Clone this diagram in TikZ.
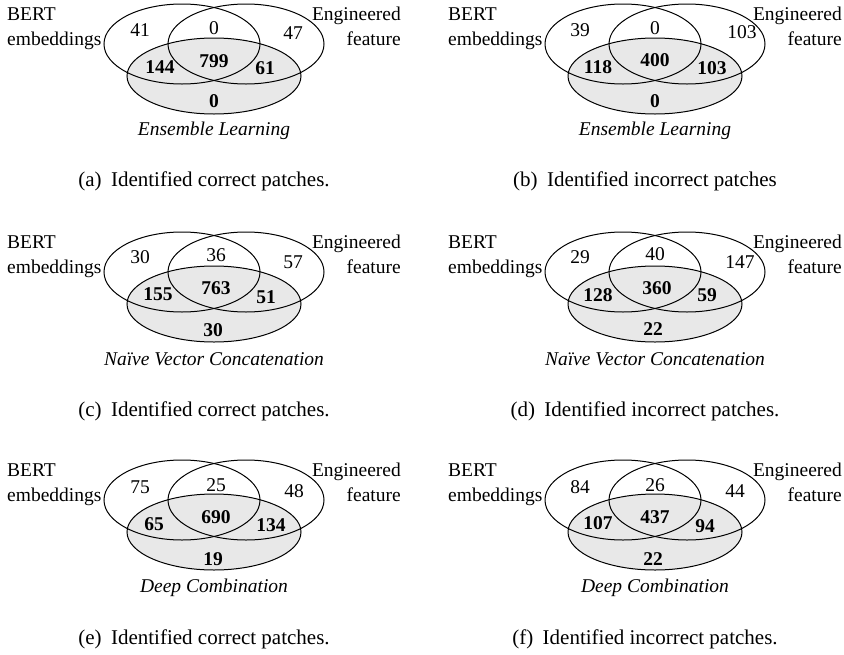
\documentclass[tikz,border=0pt]{standalone}
\usepackage{fontspec}
\setmainfont{Liberation Serif}
\tikzset{
  lbl/.style={inner sep=0pt, font=\fontsize{19.5}{23}\selectfont},
  num/.style={lbl},
  bnum/.style={inner sep=0pt, font=\fontsize{19.5}{23}\selectfont\bfseries},
  ttl/.style={inner sep=0pt, font=\fontsize{19.5}{23}\selectfont\itshape},
  captxt/.style={inner sep=0pt, font=\fontsize{21}{25}\selectfont},
  vennline/.style={line width=1pt},
  vennfill/.style={fill=black!9},
}
\newcommand\vennpanel[1]{%
  \fill[vennfill] (0,76) ellipse [x radius=87pt, y radius=38pt];
  \draw[vennline] (0,76) ellipse [x radius=87pt, y radius=38pt];
  \draw[vennline] (-32,44) ellipse [x radius=78pt, y radius=40pt];
  \draw[vennline] (32,44) ellipse [x radius=78pt, y radius=40pt];
  \node[lbl, anchor=base west] (#1-bert) at (-207,20) {BERT};
  \node[lbl, anchor=base west] (#1-emb) at (-207,45) {embeddings};
  \node[lbl, anchor=base east] (#1-eng) at (187,20) {Engineered};
  \node[lbl, anchor=base east] (#1-feat) at (187,45) {feature};
}
\begin{document}
\begin{tikzpicture}[x=1pt,y=-1pt]
\useasboundingbox (0,0) rectangle (844,654);
% (a)
\begin{scope}[shift={(214,0)}]
  \vennpanel{a}
  \node[num] (a-n1) at (-74,30) {41};
  \node[num] (a-n2) at (0,28) {0};
  \node[num] (a-n3) at (79,33) {47};
  \node[bnum] (a-n4) at (-54,67) {144};
  \node[bnum] (a-n5) at (0,61) {799};
  \node[bnum] (a-n6) at (51,68) {61};
  \node[bnum] (a-n7) at (0,101) {0};
  \node[ttl] (a-t) at (0,131) {Ensemble Learning};
  \node[captxt] (a-c) at (-10,181) {(a)\hspace{0.45em}Identified correct patches.};
\end{scope}
% (b)
\begin{scope}[shift={(655,0)}]
  \vennpanel{b}
  \node[num] (b-n1) at (-75,30) {39};
  \node[num] (b-n2) at (0,28) {0};
  \node[num] (b-n3) at (87,32) {103};
  \node[bnum] (b-n4) at (-57,67) {118};
  \node[bnum] (b-n5) at (0,60) {400};
  \node[bnum] (b-n6) at (57,68) {103};
  \node[bnum] (b-n7) at (0,101) {0};
  \node[ttl] (b-t) at (0,131) {Ensemble Learning};
  \node[captxt] (b-c) at (-10,181) {(b)\hspace{0.45em}Identified incorrect patches};
\end{scope}
% (c)
\begin{scope}[shift={(214,228)}]
  \vennpanel{c}
  \node[num] (c-n1) at (-74,29) {30};
  \node[num] (c-n2) at (2,27) {36};
  \node[num] (c-n3) at (79,34) {57};
  \node[bnum] (c-n4) at (-56,66) {155};
  \node[bnum] (c-n5) at (2,60) {763};
  \node[bnum] (c-n6) at (52,69) {51};
  \node[bnum] (c-n7) at (-1,102) {30};
  \node[ttl] (c-t) at (0,131) {Naïve Vector Concatenation};
  \node[captxt] (c-c) at (-10,183) {(c)\hspace{0.45em}Identified correct patches.};
\end{scope}
% (d)
\begin{scope}[shift={(655,228)}]
  \vennpanel{d}
  \node[num] (d-n1) at (-75,29) {29};
  \node[num] (d-n2) at (0,26) {40};
  \node[num] (d-n3) at (85,34) {147};
  \node[bnum] (d-n4) at (-57,67) {128};
  \node[bnum] (d-n5) at (2,60) {360};
  \node[bnum] (d-n6) at (52,67) {59};
  \node[bnum] (d-n7) at (-2,101) {22};
  \node[ttl] (d-t) at (0,131) {Naïve Vector Concatenation};
  \node[captxt] (d-c) at (-10,183) {(d)\hspace{0.45em}Identified incorrect patches.};
\end{scope}
% (e)
\begin{scope}[shift={(214,456)}]
  \vennpanel{e}
  \node[num] (e-n1) at (-74,31) {75};
  \node[num] (e-n2) at (2,29) {25};
  \node[num] (e-n3) at (80,35) {48};
  \node[bnum] (e-n4) at (-60,68) {65};
  \node[bnum] (e-n5) at (2,61) {690};
  \node[bnum] (e-n6) at (57,69) {134};
  \node[bnum] (e-n7) at (-1,103) {19};
  \node[ttl] (e-t) at (0,132) {Deep Combination};
  \node[captxt] (e-c) at (-10,183) {(e)\hspace{0.45em}Identified correct patches.};
\end{scope}
% (f)
\begin{scope}[shift={(655,456)}]
  \vennpanel{f}
  \node[num] (f-n1) at (-75,31) {84};
  \node[num] (f-n2) at (0,29) {26};
  \node[num] (f-n3) at (80,35) {44};
  \node[bnum] (f-n4) at (-57,67) {107};
  \node[bnum] (f-n5) at (0,61) {437};
  \node[bnum] (f-n6) at (50,70) {94};
  \node[bnum] (f-n7) at (-2,103) {22};
  \node[ttl] (f-t) at (0,132) {Deep Combination};
  \node[captxt] (f-c) at (-10,183) {(f)\hspace{0.45em}Identified incorrect patches.};
\end{scope}
\end{tikzpicture}
\end{document}
